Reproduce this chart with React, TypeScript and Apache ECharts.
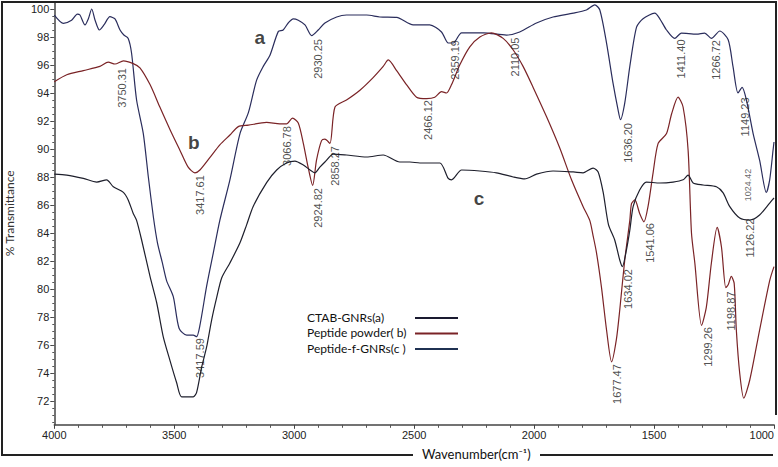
import React, { useEffect, useRef } from "react";
import * as echarts from "echarts";

// ---- Data (wavenumber cm^-1, % transmittance) ----
const waveA = [4000,3962,3928,3904,3893,3872,3858,3844,3830,3812,3793,3768,3747,3726,3710,3692,3678,3657,3629,3608,3587,3570,3550,3532,3504,3480,3448,3421,3407,3393,3365,3337,3310,3268,3226,3191,3157,3129,3101,3066,3046,3025,3004,2983,2955,2927,2900,2872,2823,2782,2698,2643,2573,2504,2435,2386,2358,2337,2302,2210,2115,2060,1990,1921,1837,1782,1747,1726,1698,1671,1650,1640,1622,1601,1573,1546,1497,1476,1448,1414,1386,1323,1289,1261,1226,1191,1171,1150,1133,1115,1087,1060,1032,1018,1004,1000];
const transA = [99.57,98.98,99.2,99.64,99.57,98.86,99.3,100.0,99.2,98.5,98.86,99.45,99.29,98.5,98.14,97.9,96.86,93.5,91.1,88.0,85.14,83.3,81.9,80.6,79.45,77.2,76.7,76.7,76.6,77.4,80.2,82.6,84.9,87.8,91.1,92.6,94.9,95.9,96.7,98.4,98.5,99.0,99.3,99.2,98.86,98.1,98.5,99.0,99.43,99.57,99.57,99.43,99.4,98.86,98.86,98.36,97.57,97.57,98.3,98.3,98.14,98.36,99.0,99.43,99.7,99.93,100.3,99.93,97.57,94.7,92.8,92.1,93.3,95.9,98.7,99.3,99.7,99.3,98.5,97.9,98.27,98.2,98.27,97.9,98.43,97.8,95.9,94.0,94.4,93.5,91.1,89.2,86.9,87.8,89.9,90.5];

const waveB = [4000,3948,3879,3810,3775,3747,3712,3671,3643,3601,3560,3518,3476,3442,3414,3393,3351,3310,3268,3233,3191,3115,3060,3032,3007,2983,2962,2942,2923,2907,2886,2872,2851,2830,2782,2726,2671,2629,2608,2573,2532,2490,2448,2414,2386,2365,2344,2310,2268,2226,2178,2129,2087,2046,2004,1948,1893,1844,1796,1768,1754,1740,1719,1698,1677,1657,1643,1622,1601,1594,1580,1560,1542,1525,1504,1483,1448,1427,1400,1379,1358,1344,1330,1302,1282,1261,1237,1219,1201,1191,1178,1166,1157,1143,1126,1101,1060,1018,1000];
const transB = [94.8,95.3,95.6,95.9,96.2,96.07,96.3,96.1,95.8,94.6,93.0,91.4,89.9,88.7,88.3,88.5,89.4,90.3,91.0,91.6,91.7,91.9,91.8,91.8,92.2,91.85,90.4,88.7,87.4,89.2,90.6,90.7,90.4,93.0,93.5,94.2,95.1,95.9,96.36,95.6,94.6,93.7,93.6,93.7,94.1,94.0,94.6,96.0,97.3,98.0,98.3,97.9,97.07,95.9,94.4,92.3,90.07,87.8,85.9,84.9,83.8,82.6,80.1,77.07,74.8,76.4,78.5,82.1,84.9,86.1,86.36,85.4,84.8,85.9,88.3,90.4,91.1,92.5,93.7,93.0,89.9,84.0,81.86,77.4,78.7,81.86,84.4,83.0,80.1,80.3,80.9,80.4,77.07,74.0,72.2,73.5,77.07,80.6,81.6];

const waveC = [4000,3948,3879,3823,3782,3754,3712,3692,3671,3657,3636,3601,3573,3546,3518,3490,3469,3421,3407,3386,3365,3344,3323,3302,3268,3226,3198,3171,3115,3073,3032,2997,2962,2934,2914,2893,2872,2837,2782,2698,2629,2560,2518,2476,2393,2358,2344,2302,2226,2157,2087,2039,1990,1921,1837,1796,1754,1733,1712,1690,1664,1643,1632,1615,1601,1587,1560,1532,1476,1421,1379,1358,1337,1296,1240,1212,1185,1143,1101,1060,1018,1000];
const transC = [88.2,88.14,87.9,87.64,87.8,87.3,86.9,86.36,85.4,84.9,83.5,80.9,79.0,76.6,74.9,73.3,72.3,72.3,72.6,74.4,75.86,77.8,79.4,80.8,81.86,83.3,84.6,85.9,87.6,88.5,89.0,89.14,88.86,88.5,88.3,88.7,89.07,89.64,89.57,89.43,89.57,89.07,89.07,89.0,89.0,87.9,87.8,88.5,88.43,88.3,88.0,87.86,88.2,88.43,88.36,88.3,88.64,88.36,86.9,84.6,83.5,82.07,81.6,82.8,84.2,85.9,87.07,87.64,87.57,87.64,87.8,88.14,87.57,87.43,87.3,86.86,85.9,85.07,84.93,85.29,86.14,86.5];

const seriesNames = ["CTAB-GNRs(a)", "Peptide powder( b)", "Peptide-f-GNRs(c )"];

// Peak annotations: text and anchor (wavenumber, %T) of label centre
const peakTexts = ["3750.31","3417.61","3066.78","2930.25","2924.82","2858.27","2466.12","2359.19","2110.05","1636.20","1411.40","1266.72","1149.23","1126.22","1541.06","1634.02","1677.47","1299.26","1198.87","3417.59"];
const peakWave = [3719,3393,3032,2900,2900,2830,2442,2330,2080,1608,1386,1240,1122,1101,1518,1608,1654,1275,1178,3393];
const peakTrans = [94.36,86.71,90.21,96.43,85.79,88.79,92.07,96.36,96.57,90.43,96.43,96.36,92.29,83.64,83.29,80.0,73.21,75.86,78.43,75.07];
const smallPeakText = "1024.42";
const smallPeakWave = 1108;
const smallPeakTrans = 87.43;

const curveLetters = ["a", "b", "c"];
const letterWave = [3143, 3418, 2230];
const letterTrans = [98.0, 90.43, 86.5];

const xTicks = [4000, 3500, 3000, 2500, 2000, 1500, 1000];
const yTicks = [72, 74, 76, 78, 80, 82, 84, 86, 88, 90, 92, 94, 96, 98, 100];
const yMinorTicks: number[] = [];
for (let v = 70.5; v <= 100.01; v += 0.5) yMinorTicks.push(Math.round(v * 10) / 10);

const lineColors = ["#2a2d5c", "#7a2326", "#1e1f2c"];
const legendColors = ["#1a1a30", "#7a2326", "#1f3152"];

const zip = (xs: number[], ys: number[]) => xs.map((x, i) => [x, ys[i]]);

export default function App() {
  const ref = useRef<HTMLDivElement>(null);
  useEffect(() => {
    if (!ref.current) return;
    const chart = echarts.init(ref.current, null, { renderer: "svg" });
    const tickFont = "'Liberation Sans Narrow', 'Liberation Sans', Arial, sans-serif";
    const legendItems: any[] = [];
    seriesNames.forEach((n, i) => {
      legendItems.push({
        type: "text",
        left: 307,
        top: 311 + i * 15.5,
        style: { text: n, fill: "#111", font: "12px Lato, 'Open Sans', sans-serif" },
      });
      legendItems.push({
        type: "line",
        shape: { x1: 415, y1: 318 + i * 15.5, x2: 458, y2: 318 + i * 15.5 },
        style: { stroke: legendColors[i], lineWidth: 2 },
      });
    });

    const option: any = {
      animation: false,
      grid: { left: 54.3, right: 4, top: 3.4, bottom: 42.2, containLabel: false },
      xAxis: {
        type: "value",
        inverse: true,
        min: 1000,
        max: 4000,
        interval: 500,
        axisLine: { show: true, lineStyle: { color: "#444", width: 1.5 } },
        axisTick: { show: true, length: 4, lineStyle: { color: "#444" } },
        minorTick: { show: true, splitNumber: 5, length: 3, lineStyle: { color: "#555" } },
        splitLine: { show: false },
        axisLabel: {
          color: "#222",
          fontSize: 11,
          fontFamily: tickFont,
          margin: 5,
          alignMinLabel: "right",
          formatter: (v: number) => (xTicks.indexOf(v) >= 0 ? String(v) : ""),
        },
      },
      yAxis: [
        {
          type: "value",
          min: 70.3,
          max: 100.4,
          axisLine: { show: true, lineStyle: { color: "#444", width: 1.5 } },
          axisTick: { show: true, length: 4, customValues: yTicks, lineStyle: { color: "#444" } },
          axisLabel: { show: true, customValues: yTicks, color: "#222", fontSize: 11, fontFamily: tickFont, margin: 5 },
          splitLine: { show: false },
        },
        {
          type: "value",
          min: 70.3,
          max: 100.4,
          position: "left",
          axisLine: { show: false },
          axisTick: { show: true, length: 2, inside: false, customValues: yMinorTicks, lineStyle: { color: "#555" } },
          axisLabel: { show: false },
          splitLine: { show: false },
        },
      ],
      series: [
        ...[ [waveA, transA], [waveB, transB], [waveC, transC] ].map(([w, t], i) => ({
          name: seriesNames[i],
          type: "line",
          data: zip(w as number[], t as number[]),
          showSymbol: false,
          symbol: "none",
          smooth: 0.25,
          lineStyle: { color: lineColors[i], width: 1.2 },
          itemStyle: { color: lineColors[i] },
          silent: true,
          clip: false,
          z: 3,
        })),
        {
          name: "peaks",
          type: "scatter",
          symbolSize: 0,
          silent: true,
          z: 5,
          data: [
            ...peakTexts.map((txt, i) => ({
              value: [peakWave[i], peakTrans[i]],
              label: {
                show: true,
                formatter: txt,
                position: "inside",
                rotate: 90,
                color: "#222",
                fontSize: 11,
                fontFamily: "'Liberation Sans', Arial, sans-serif",
              },
            })),
            {
              value: [smallPeakWave, smallPeakTrans],
              label: {
                show: true,
                formatter: smallPeakText,
                position: "inside",
                rotate: 90,
                color: "#444",
                fontSize: 9,
                fontFamily: "'Liberation Sans', Arial, sans-serif",
              },
            },
          ],
          labelLayout: { hideOverlap: false },
        },
        {
          name: "letters",
          type: "scatter",
          symbolSize: 0,
          silent: true,
          z: 5,
          data: curveLetters.map((c, i) => ({
            value: [letterWave[i], letterTrans[i]],
            label: {
              show: true,
              formatter: c,
              position: "inside",
              color: "#111",
              fontSize: 19,
              fontWeight: "bold",
              fontFamily: "'Liberation Sans', Arial, sans-serif",
            },
          })),
        },
      ],
      graphic: [
        {
          type: "polyline",
          shape: { points: [[413, 455], [2, 455], [2, 2], [776, 2], [776, 415]] },
          style: { stroke: "#222", lineWidth: 2, fill: "none" },
          silent: true,
        },
        {
          type: "line",
          shape: { x1: 540, y1: 455, x2: 773, y2: 455 },
          style: { stroke: "#222", lineWidth: 2 },
          silent: true,
        },
        {
          type: "text",
          left: 422,
          top: 447,
          style: { text: "Wavenumber(cm⁻¹)", fill: "#111", font: "13px Lato, 'Open Sans', sans-serif" },
        },
        {
          type: "text",
          left: 3,
          top: 170,
          rotation: Math.PI / 2,
          style: { text: "% Transmittance", fill: "#333", font: "12px Lato, 'Open Sans', sans-serif" },
        },
        ...legendItems,
      ],
    };
    chart.setOption(option);
    return () => chart.dispose();
  }, []);
  return (
    <div
      ref={ref}
      style={{ position: "fixed", left: 0, top: 0, width: 778, height: 467, background: "#fff" }}
    />
  );
}
